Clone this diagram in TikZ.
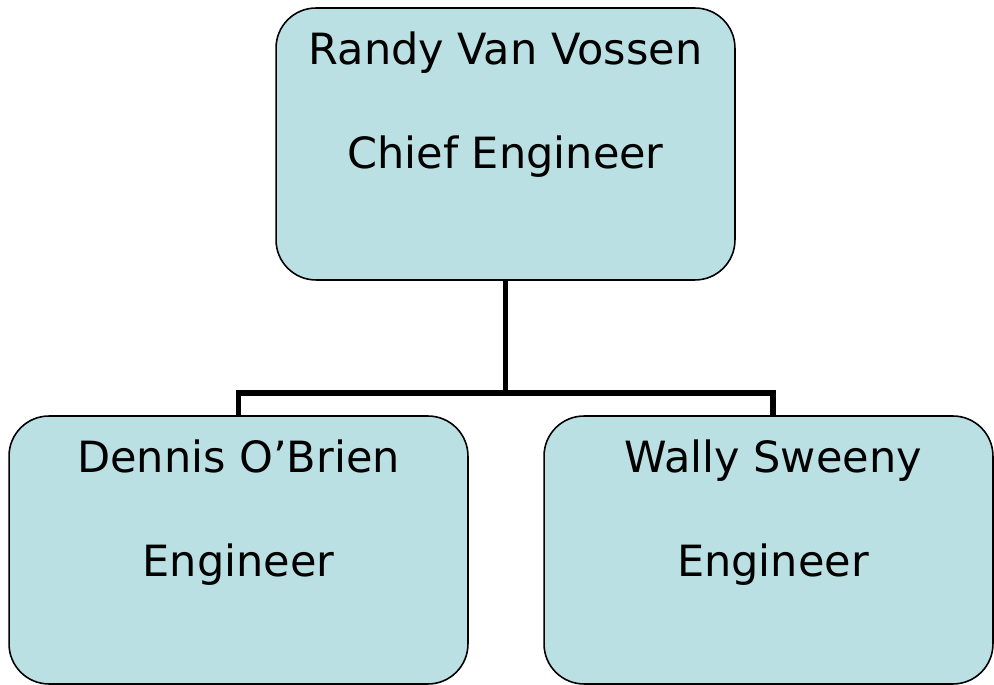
\documentclass[tikz,border=0pt]{standalone}
\usepackage{fontspec}
\setmainfont{DejaVu Sans}
\usetikzlibrary{calc}
\definecolor{boxblue}{HTML}{BBE0E3}
\tikzset{
  orgbox/.style={draw=black, line width=0.9pt, fill=boxblue, rounded corners=0.8cm,
    minimum width=9.18cm, minimum height=5.44cm, inner sep=0pt},
  orgtext/.style={font=\fontsize{24.5}{29}\selectfont, anchor=base, inner sep=0pt},
  orgline/.style={line width=3pt}
}

\begin{document}
\begin{tikzpicture}[x=0.02cm, y=-0.02cm]
			%%%%% START %%%%%
			\useasboundingbox (0, 0) rectangle (994, 685);
			
			\node[orgbox] (chief) at (505.5, 144) {};
			\node[orgbox, minimum height=5.36cm] (dennis) at (238.5, 550) {};
			\node[orgbox, minimum width=8.98cm, minimum height=5.36cm] (wally) at (768.5, 550) {};
			
			\node[orgtext] (chiefname) at ($(chief.north)+(0, 57)$) {Randy Van Vossen};
			\node[orgtext] (chieftitle) at ($(chiefname.base)+(0, 104)$) {Chief Engineer};
			\node[orgtext] (dennisname) at ($(dennis.north)+(0, 57)$) {Dennis O’Brien};
			\node[orgtext] (dennistitle) at ($(dennisname.base)+(0, 104)$) {Engineer};
			\node[orgtext] (wallyname) at ($(wally.north)+(4.5, 57)$) {Wally Sweeny};
			\node[orgtext] (wallytitle) at ($(wallyname.base)+(0, 104)$) {Engineer};
			
			\coordinate (fork) at (505.5, 393);
			\draw[orgline] (chief.south) -- (fork);
			\draw[orgline] (dennis.north) |- (fork) -| ($(wally.north)+(4.5, 0)$);
			
			%%%%% END %%%%%
\end{tikzpicture}
\end{document}
